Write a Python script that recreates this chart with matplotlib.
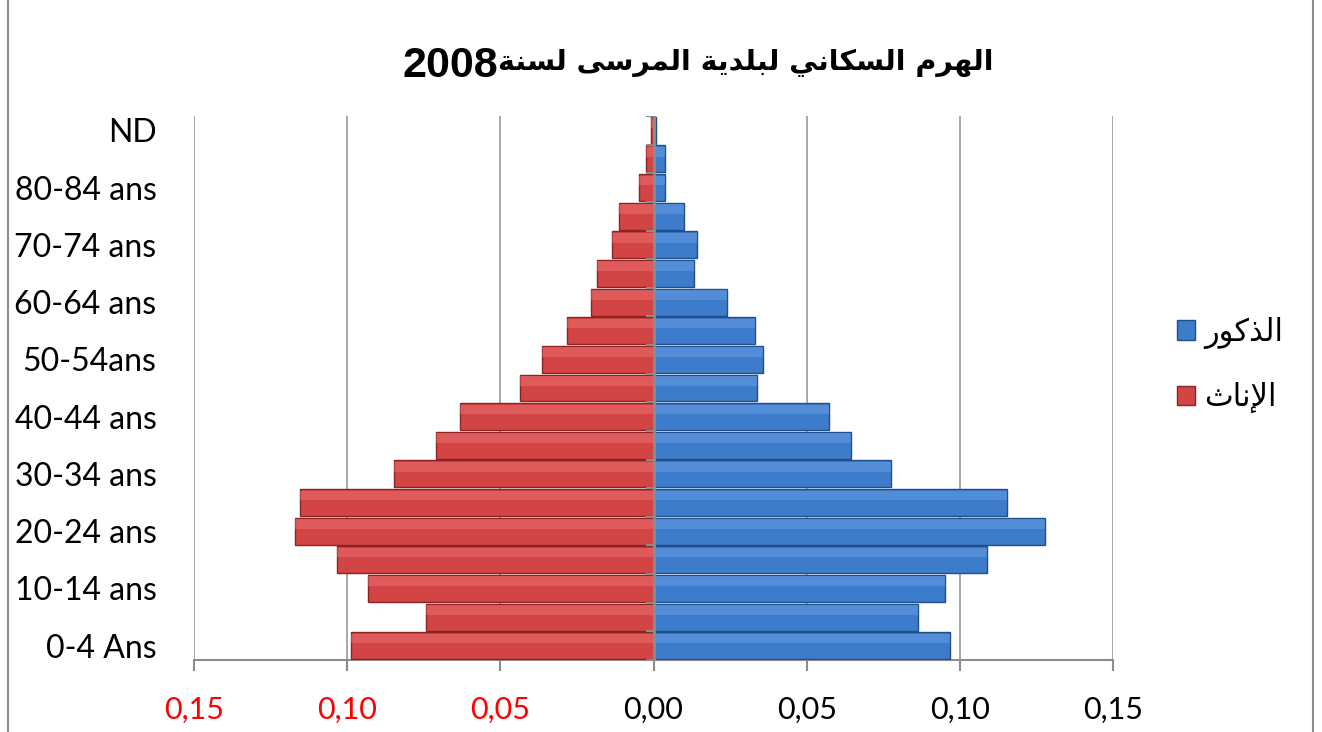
import re
import numpy as np
import matplotlib
matplotlib.use("Agg")
import matplotlib.pyplot as plt
from matplotlib.patches import Patch, Rectangle
from matplotlib.ticker import FuncFormatter

TITLE_AR = "الهرم السكاني لبلدية المرسى لسنة"
TITLE_YEAR = "2008"
MALE_LABEL = "الذكور"
FEMALE_LABEL = "الإناث"

AGES = ["0-4 Ans", "5-9 ans", "10-14 ans", "15-19 ans", "20-24 ans", "25-29 ans",
        "30-34 ans", "35-39 ans", "40-44 ans", "45-49 ans", "50-54ans", "55-59 ans",
        "60-64 ans", "65-69 ans", "70-74 ans", "75-79 ans", "80-84 ans", "85+ ans", "ND"]

MALES = [0.0967, 0.0863, 0.0951, 0.1088, 0.1278, 0.1154, 0.0775, 0.0644, 0.0572, 0.0337,
         0.0356, 0.0330, 0.0239, 0.0131, 0.0141, 0.0101, 0.0039, 0.0036, 0.0007]
FEMALES = [0.0987, 0.0742, 0.0931, 0.1033, 0.1170, 0.1154, 0.0846, 0.0709, 0.0631, 0.0435,
           0.0363, 0.0284, 0.0203, 0.0183, 0.0137, 0.0114, 0.0046, 0.0026, 0.0007]

XTICKS = [-0.15, -0.10, -0.05, 0.0, 0.05, 0.10, 0.15]

# arabic presentation forms: isolated, final, initial, medial
FORMS = {
    "ا": ("\uFE8D", "\uFE8E", None, None),
    "إ": ("\uFE87", "\uFE88", None, None),
    "ب": ("\uFE8F", "\uFE90", "\uFE91", "\uFE92"),
    "ة": ("\uFE93", "\uFE94", None, None),
    "ت": ("\uFE95", "\uFE96", "\uFE97", "\uFE98"),
    "ث": ("\uFE99", "\uFE9A", "\uFE9B", "\uFE9C"),
    "د": ("\uFEA9", "\uFEAA", None, None),
    "ذ": ("\uFEAB", "\uFEAC", None, None),
    "ر": ("\uFEAD", "\uFEAE", None, None),
    "س": ("\uFEB1", "\uFEB2", "\uFEB3", "\uFEB4"),
    "ك": ("\uFED9", "\uFEDA", "\uFEDB", "\uFEDC"),
    "ل": ("\uFEDD", "\uFEDE", "\uFEDF", "\uFEE0"),
    "م": ("\uFEE1", "\uFEE2", "\uFEE3", "\uFEE4"),
    "ن": ("\uFEE5", "\uFEE6", "\uFEE7", "\uFEE8"),
    "ه": ("\uFEE9", "\uFEEA", "\uFEEB", "\uFEEC"),
    "و": ("\uFEED", "\uFEEE", None, None),
    "ى": ("\uFEEF", "\uFEF0", None, None),
    "ي": ("\uFEF1", "\uFEF2", "\uFEF3", "\uFEF4"),
    "\u0001": ("\uFEFB", "\uFEFC", None, None),  # lam-alef
    "\u0002": ("\uFEF9", "\uFEFA", None, None),  # lam-alef hamza below
}


def shape(text):
    text = text.replace("لا", "\u0001").replace("لإ", "\u0002")
    out = []
    for i, c in enumerate(text):
        if c not in FORMS:
            out.append(c)
            continue
        prev = text[i - 1] if i > 0 else ""
        nxt = text[i + 1] if i + 1 < len(text) else ""
        dual = FORMS[c][2] is not None
        pj = prev in FORMS and FORMS[prev][2] is not None
        nj = dual and nxt in FORMS
        if pj and nj:
            out.append(FORMS[c][3])
        elif pj:
            out.append(FORMS[c][1])
        elif nj:
            out.append(FORMS[c][2])
        else:
            out.append(FORMS[c][0])
    vis = "".join(out)[::-1]
    return re.sub(r"[0-9]+", lambda m: m.group(0)[::-1], vis)


BLUE = "#3D7BCB"
RED = "#D34444"

fig = plt.figure(figsize=(13.22, 7.32), dpi=100)
ax = fig.add_axes([194 / 1322, 1 - 660 / 732, 919 / 1322, 544 / 732])

y = np.arange(len(AGES))
h = 0.94
ax.barh(y, MALES, height=h, color=BLUE, edgecolor="#214F8A", linewidth=1, zorder=3)
ax.barh(y, [-v for v in FEMALES], height=h, color=RED, edgecolor="#8C2323", linewidth=1, zorder=3)
# bevel highlight
ax.barh(y + 0.25, MALES, height=0.34, color="#76A9EA", alpha=0.4, linewidth=0, zorder=4)
ax.barh(y + 0.25, [-v for v in FEMALES], height=0.34, color="#F28080", alpha=0.4, linewidth=0, zorder=4)

ax.set_xlim(-0.15, 0.15)
ax.set_ylim(-0.5, len(AGES) - 0.5)
ax.set_xticks(XTICKS)
ax.xaxis.set_major_formatter(FuncFormatter(lambda v, p: f"{abs(v):.2f}".replace(".", ",")))
ax.set_yticks(y[::2])
ax.set_yticklabels(AGES[::2])

for s in ["top", "right", "left"]:
    ax.spines[s].set_visible(False)
ax.spines["bottom"].set_color("#8C8C8C")
ax.spines["bottom"].set_linewidth(1.5)
ax.grid(axis="x", color="#9A9A9A", linewidth=1.2, zorder=0)
ax.set_axisbelow(True)

# vertical axis at zero with small ticks
ax.axvline(0, color="#8C8C8C", linewidth=2, zorder=5)
ax.hlines(np.arange(-0.5, len(AGES), 1.0), -0.0025, 0, color="#8C8C8C", linewidth=1.5, zorder=5)

ax.tick_params(axis="x", length=8, width=1.5, color="#8C8C8C", pad=18, labelsize=22)
ax.tick_params(axis="y", length=0, pad=27, labelsize=23)
for lbl in ax.get_xticklabels() + ax.get_yticklabels():
    lbl.set_fontfamily("Lato")
for lbl, v in zip(ax.get_xticklabels(), XTICKS):
    if v < 0:
        lbl.set_color("red")

# title: year on the left, arabic text to its right
fig.text(498 / 1322, 1 - 66 / 732, TITLE_YEAR, ha="right", va="center", fontsize=31,
         fontweight="bold", family="Liberation Sans")
fig.text(498 / 1322, 1 - 63 / 732, shape(TITLE_AR), ha="left", va="center", fontsize=20.5,
         fontweight="bold", family=["DejaVu Sans"])

handles = [Patch(facecolor=BLUE, edgecolor="#214F8A"), Patch(facecolor=RED, edgecolor="#8C2323")]
fig.legend(handles, [shape(MALE_LABEL), shape(FEMALE_LABEL)], loc="center left",
           bbox_to_anchor=(1177 / 1322, 1 - 365 / 732), frameon=False, borderpad=0,
           borderaxespad=0, prop={"family": "DejaVu Sans", "size": 22}, handlelength=0.6,
           handleheight=0.6, handletextpad=0.3, labelspacing=1.1)

fig.patches.append(Rectangle((8 / 1322, -0.05), 1305 / 1322, 1.1, transform=fig.transFigure,
                             fill=False, edgecolor="#8C8C8C", linewidth=1.5))

fig.savefig("out.png", dpi=100)
